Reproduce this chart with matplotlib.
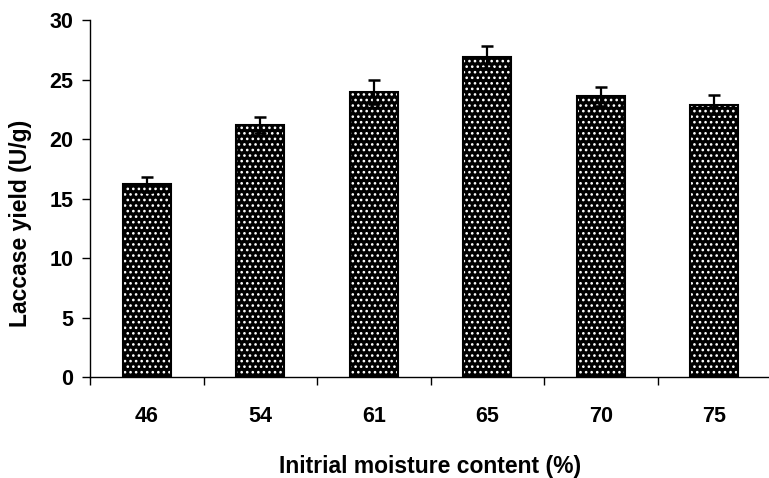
import matplotlib
matplotlib.use("Agg")
import matplotlib.pyplot as plt
import numpy as np

# Laccase yield at different initial moisture contents
moisture = ["46", "54", "61", "65", "70", "75"]
yield_ug = [16.2, 21.2, 24.0, 26.9, 23.6, 22.9]
yield_err = [0.6, 0.7, 1.0, 0.9, 0.8, 0.8]

plt.rcParams["font.family"] = ["Liberation Sans", "DejaVu Sans"]
plt.rcParams["font.weight"] = "bold"
plt.rcParams["hatch.linewidth"] = 1.1

W, H = 769, 478
fig = plt.figure(figsize=(W / 100, H / 100), dpi=100)
left, right, top, bottom = 90, 771, 20.3, 377
ax = fig.add_axes([left / W, 1 - bottom / H, (right - left) / W, (bottom - top) / H])

x = np.arange(len(moisture))
bw = 0.42
# black bars with a white dot pattern
ax.bar(x, yield_ug, width=bw, color="black", edgecolor="white", hatch="...",
       linewidth=0, zorder=2)
ax.bar(x, yield_ug, width=bw, facecolor="none", edgecolor="black",
       linewidth=1.5, zorder=3)
ax.errorbar(x, yield_ug, yerr=yield_err, fmt="none", ecolor="black",
            elinewidth=1.6, capsize=4.5, capthick=1.8, zorder=4)

ax.set_xlim(-0.5, len(moisture) - 0.5)
ax.set_ylim(0, 30)
ax.set_yticks(np.arange(0, 31, 5))

# category labels centred under bars, tick marks on category boundaries
ax.set_xticks(np.arange(-0.5, len(moisture)), minor=False)
ax.set_xticklabels([])
ax.set_xticks(x, minor=True)
ax.set_xticklabels(moisture, minor=True)
ax.tick_params(axis="x", which="major", direction="out", length=6, width=1)
ax.tick_params(axis="x", which="minor", length=0, pad=21, labelsize=15.5)
ax.tick_params(axis="y", direction="out", length=6, width=1, pad=6, labelsize=15.5)

for s in ("top", "right"):
    ax.spines[s].set_visible(False)
for s in ("left", "bottom"):
    ax.spines[s].set_linewidth(1)

ax.set_ylabel("Laccase yield (U/g)", fontsize=16.5, fontweight="bold")
ax.yaxis.set_label_coords(-0.085, 0.43)
ax.set_xlabel("Initrial moisture content (%)", fontsize=16.5, fontweight="bold",
              labelpad=20)

fig.savefig("out.png", dpi=100)
